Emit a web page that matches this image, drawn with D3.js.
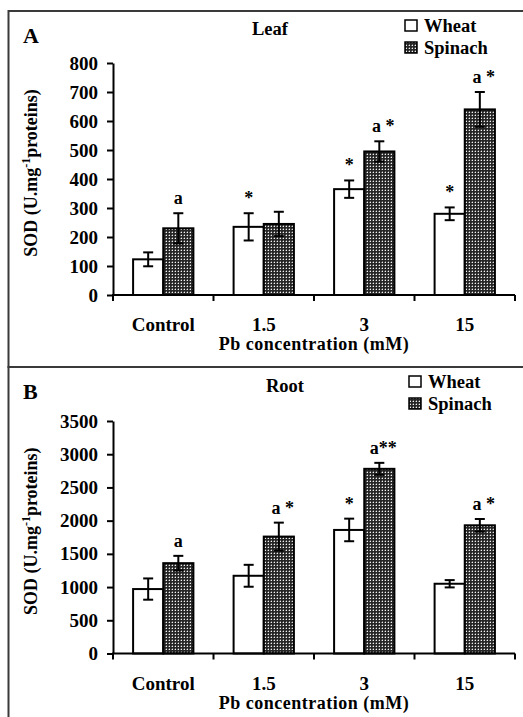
<!DOCTYPE html>
<html>
<head>
<meta charset="utf-8">
<script src="https://cdn.jsdelivr.net/npm/d3@7"></script>
<style>
  html, body { margin: 0; padding: 0; background: #fff; }
  svg { display: block; }
  text { font-family: "Liberation Serif", "Times New Roman", serif; font-weight: bold; fill: #000; }
</style>
</head>
<body>
<svg id="chart" width="523" height="717"></svg>
<script>
// Pb treatment levels on the x axis
const categories = ["Control", "1.5", "3", "15"];
const seriesNames = ["Wheat", "Spinach"];

// Leaf SOD activity (U.mg-1 proteins), mean and error
const leafWheat = [123, 235, 365, 280];
const leafWheatErr = [24, 47, 30, 22];
const leafSpinach = [230, 245, 495, 640];
const leafSpinachErr = [52, 42, 35, 60];
const leafWheatMarks = ["", "*", "*", "*"];
const leafSpinachMarks = ["a", "", "a *", "a *"];
const leafTicks = [0, 100, 200, 300, 400, 500, 600, 700, 800];

// Root SOD activity (U.mg-1 proteins), mean and error
const rootWheat = [970, 1170, 1860, 1050];
const rootWheatErr = [160, 165, 170, 55];
const rootSpinach = [1360, 1760, 2780, 1930];
const rootSpinachErr = [110, 210, 90, 95];
const rootWheatMarks = ["", "", "*", ""];
const rootSpinachMarks = ["a", "a *", "a**", "a *"];
const rootTicks = [0, 500, 1000, 1500, 2000, 2500, 3000, 3500];

const svg = d3.select("#chart");

// dotted dark fill for spinach bars
const defs = svg.append("defs");
const pat = defs.append("pattern")
  .attr("id", "dots")
  .attr("patternUnits", "userSpaceOnUse")
  .attr("width", 3).attr("height", 3);
pat.append("rect").attr("width", 3).attr("height", 3).attr("fill", "#262626");
pat.append("rect").attr("x", 1).attr("y", 1).attr("width", 1).attr("height", 1).attr("fill", "#f2f2f2");
pat.append("rect").attr("x", 0).attr("y", 1).attr("width", 1).attr("height", 1).attr("fill", "#6a6a6a");
pat.append("rect").attr("x", 1).attr("y", 0).attr("width", 1).attr("height", 1).attr("fill", "#6a6a6a");

const fills = { Wheat: "#fff", Spinach: "url(#dots)" };

function drawPanel(cfg) {
  const g = svg.append("g");

  // panel frame
  g.append("rect")
    .attr("x", 8.5).attr("y", cfg.frameTop)
    .attr("width", 540).attr("height", cfg.frameHeight)
    .attr("fill", "none").attr("stroke", "#3a3a3a").attr("stroke-width", 2);

  const x = d3.scaleBand().domain(categories)
    .range([113, 515]).paddingInner(0.4).paddingOuter(0.2);
  const x1 = d3.scaleBand().domain(seriesNames).range([0, x.bandwidth()]);
  const y = d3.scaleLinear().domain([0, cfg.max]).range(cfg.yRange);

  const rows = [];
  categories.forEach((c, i) => {
    rows.push({ c, s: "Wheat", v: cfg.wheat[i], e: cfg.wheatErr[i], m: cfg.wheatMarks[i] });
    rows.push({ c, s: "Spinach", v: cfg.spinach[i], e: cfg.spinachErr[i], m: cfg.spinachMarks[i] });
  });

  // bars
  g.selectAll(".bar").data(rows).enter().append("rect")
    .attr("x", d => x(d.c) + x1(d.s))
    .attr("y", d => y(d.v))
    .attr("width", x1.bandwidth())
    .attr("height", d => y(0) - y(d.v))
    .attr("fill", d => fills[d.s])
    .attr("stroke", "#000").attr("stroke-width", 2);

  // error bars
  const eb = g.selectAll(".err").data(rows).enter().append("g")
    .attr("stroke", "#000").attr("stroke-width", 2);
  const cx = d => x(d.c) + x1(d.s) + x1.bandwidth() / 2;
  eb.append("line")
    .attr("x1", cx).attr("x2", cx)
    .attr("y1", d => y(d.v + d.e)).attr("y2", d => y(d.v - d.e));
  eb.append("line")
    .attr("x1", d => cx(d) - 5).attr("x2", d => cx(d) + 5)
    .attr("y1", d => y(d.v + d.e)).attr("y2", d => y(d.v + d.e));
  eb.append("line")
    .attr("x1", d => cx(d) - 5).attr("x2", d => cx(d) + 5)
    .attr("y1", d => y(d.v - d.e)).attr("y2", d => y(d.v - d.e));

  // significance marks
  g.selectAll(".mark").data(rows.filter(d => d.m)).enter().append("text")
    .attr("x", d => cx(d) + (d.m.length > 1 ? 4 : 0))
    .attr("y", d => y(d.v + d.e) - 9)
    .attr("text-anchor", "middle")
    .style("font-size", "18px")
    .text(d => d.m);

  // y axis
  const yAxis = d3.axisLeft(y).tickValues(cfg.ticks).tickFormat(d3.format("d"))
    .tickSize(6).tickSizeOuter(0).tickPadding(9);
  const ya = g.append("g").attr("transform", "translate(113,0)").call(yAxis);
  ya.select(".domain").attr("stroke", "#000").attr("stroke-width", 2);
  ya.selectAll(".tick line").attr("stroke", "#000").attr("stroke-width", 2);
  ya.selectAll(".tick text")
    .attr("fill", "#000")
    .style("font-family", "'Liberation Serif', serif")
    .style("font-weight", "bold")
    .style("font-size", "19px");

  // x axis baseline with ticks at category boundaries
  const y0 = y(0);
  g.append("line").attr("x1", 112).attr("x2", 515).attr("y1", y0).attr("y2", y0)
    .attr("stroke", "#000").attr("stroke-width", 2);
  const step = x.step();
  const bounds = d3.range(categories.length + 1).map(i => 113 + i * step);
  g.selectAll(".xt").data(bounds).enter().append("line")
    .attr("x1", d => d).attr("x2", d => d)
    .attr("y1", y0).attr("y2", y0 + 6)
    .attr("stroke", "#000").attr("stroke-width", 2);

  // category labels
  g.selectAll(".cat").data(categories).enter().append("text")
    .attr("x", d => x(d) + x.bandwidth() / 2)
    .attr("y", y0 + 36)
    .attr("text-anchor", "middle")
    .style("font-size", "19px")
    .text(d => d);

  // x axis title
  g.append("text")
    .attr("x", 314).attr("y", y0 + 55)
    .attr("text-anchor", "middle")
    .style("font-size", "18px").style("letter-spacing", "0.5px")
    .text("Pb concentration (mM)");

  // y axis title
  const yt = g.append("text")
    .attr("transform", `translate(37,${(cfg.yRange[0] + cfg.yRange[1]) / 2 - 6}) rotate(-90)`)
    .attr("text-anchor", "middle")
    .style("font-size", "18px");
  yt.append("tspan").text("SOD (U.mg");
  yt.append("tspan").attr("dy", -7).style("font-size", "12px").text("-1");
  yt.append("tspan").attr("dy", 7).text("proteins)");

  // panel letter and title
  g.append("text").attr("x", 23).attr("y", cfg.letterY)
    .style("font-size", "22px").text(cfg.letter);
  g.append("text").attr("x", cfg.titleX).attr("y", cfg.titleY)
    .attr("text-anchor", "middle").style("font-size", "18.5px").text(cfg.title);

  // legend
  const lg = g.append("g").attr("transform", `translate(${cfg.legendX},${cfg.legendY})`);
  seriesNames.forEach((s, i) => {
    lg.append("rect").attr("x", 0).attr("y", i * 22).attr("width", 12).attr("height", 11)
      .attr("fill", fills[s]).attr("stroke", "#000").attr("stroke-width", 1.5);
    lg.append("text").attr("x", 19).attr("y", i * 22 + 12)
      .style("font-size", "18.5px").text(s);
  });
}

drawPanel({
  frameTop: 11, frameHeight: 356,
  max: 800, yRange: [295, 63], ticks: leafTicks,
  wheat: leafWheat, wheatErr: leafWheatErr, wheatMarks: leafWheatMarks,
  spinach: leafSpinach, spinachErr: leafSpinachErr, spinachMarks: leafSpinachMarks,
  letter: "A", letterY: 43, title: "Leaf", titleX: 270, titleY: 35,
  legendX: 405, legendY: 20
});

drawPanel({
  frameTop: 367, frameHeight: 400,
  max: 3500, yRange: [653.5, 421], ticks: rootTicks,
  wheat: rootWheat, wheatErr: rootWheatErr, wheatMarks: rootWheatMarks,
  spinach: rootSpinach, spinachErr: rootSpinachErr, spinachMarks: rootSpinachMarks,
  letter: "B", letterY: 399, title: "Root", titleX: 285, titleY: 392,
  legendX: 409, legendY: 376
});
</script>
</body>
</html>
